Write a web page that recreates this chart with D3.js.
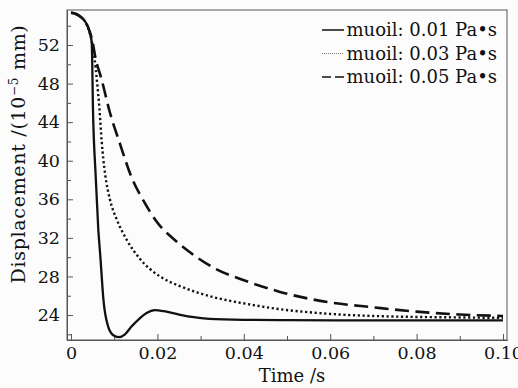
<!DOCTYPE html>
<html>
<head>
<meta charset="utf-8">
<script src="https://cdn.jsdelivr.net/npm/d3@7"></script>
<style>
  body { margin: 0; background: #fcfcfc; }
  svg { display: block; }
</style>
</head>
<body>
<div id="chart"></div>
<script>
// data
var t01 = [0, 0.001, 0.002, 0.003, 0.0038, 0.0044, 0.0048, 0.0051, 0.0057, 0.0063, 0.0068, 0.0075, 0.0086, 0.0098, 0.011, 0.0125, 0.014, 0.0158, 0.0175, 0.0194, 0.0215, 0.025, 0.028, 0.032, 0.04, 0.05, 0.07, 0.1];
var v01 = [55.35, 55.25, 55.0, 54.6, 54.0, 53.2, 52.2, 45.0, 38.5, 33.0, 30.0, 25.6, 22.8, 21.9, 21.7, 22.0, 22.8, 23.6, 24.2, 24.5, 24.4, 24.05, 23.8, 23.6, 23.5, 23.47, 23.45, 23.45];

var t03 = [0, 0.001, 0.002, 0.003, 0.004, 0.0048, 0.0054, 0.006, 0.0066, 0.0071, 0.0079, 0.009, 0.0106, 0.0129, 0.016, 0.0206, 0.0252, 0.0295, 0.033, 0.0407, 0.0484, 0.0561, 0.0623, 0.07, 0.08, 0.09, 0.1];
var v03 = [55.35, 55.25, 55.0, 54.6, 53.7, 52.4, 50.8, 48.3, 45.3, 42.0, 38.6, 36.0, 33.9, 31.8, 29.8, 28.0, 27.0, 26.3, 25.85, 25.15, 24.6, 24.25, 24.05, 23.9, 23.8, 23.75, 23.7];

var t05 = [0, 0.001, 0.002, 0.003, 0.004, 0.005, 0.0056, 0.0071, 0.009, 0.0113, 0.014, 0.0171, 0.0198, 0.0245, 0.0291, 0.033, 0.0407, 0.0484, 0.0561, 0.06, 0.07, 0.08, 0.09, 0.1];
var v05 = [55.35, 55.25, 55.0, 54.6, 53.8, 52.3, 50.8, 48.4, 45.0, 41.8, 38.3, 35.6, 33.7, 31.6, 30.0, 28.9, 27.5, 26.4, 25.6, 25.3, 24.8, 24.35, 24.05, 23.9];

var seriesNames = ["muoil: 0.01 Pa\u2022s", "muoil: 0.03 Pa\u2022s", "muoil: 0.05 Pa\u2022s"];

var xTicks = [0, 0.02, 0.04, 0.06, 0.08, 0.1];
var xTickLabels = ["0", "0.02", "0.04", "0.06", "0.08", "0.10"];
var xMinor = [0.01, 0.03, 0.05, 0.07, 0.09];
var yTicks = [24, 28, 32, 36, 40, 44, 48, 52];
var yMinor = [22, 26, 30, 34, 38, 42, 46, 50, 54];

var W = 518, H = 388;
var pLeft = 67, pRight = 507, pTop = 10, pBottom = 340;
var font = "'DejaVu Serif', serif";
var ink = "#111";

var svg = d3.select("#chart")
  .append("svg")
    .attr("width", W)
    .attr("height", H);

var x = d3.scaleLinear()
  .domain([-0.00093, 0.10093])
  .range([pLeft, pRight]);

var y = d3.scaleLinear()
  .domain([21.41, 55.63])
  .range([pBottom, pTop]);

// frame
svg.append("rect")
  .attr("x", pLeft)
  .attr("y", pTop)
  .attr("width", pRight - pLeft)
  .attr("height", pBottom - pTop)
  .attr("fill", "none")
  .attr("stroke", "#555")
  .attr("stroke-width", 1);

// x axis
svg.append("g")
  .attr("transform", "translate(0," + pBottom + ")")
  .call(d3.axisBottom(x)
    .tickValues(xTicks)
    .tickSizeInner(-6)
    .tickSizeOuter(0)
    .tickPadding(7)
    .tickFormat(function(d, i) { return xTickLabels[i]; }));

svg.append("g")
  .attr("transform", "translate(0," + pBottom + ")")
  .call(d3.axisBottom(x)
    .tickValues(xMinor)
    .tickSizeInner(-4)
    .tickSizeOuter(0)
    .tickFormat(""));

// y axis
svg.append("g")
  .attr("transform", "translate(" + pLeft + ",0)")
  .call(d3.axisLeft(y)
    .tickValues(yTicks)
    .tickSizeInner(-6)
    .tickSizeOuter(0)
    .tickPadding(7));

svg.append("g")
  .attr("transform", "translate(" + pLeft + ",0)")
  .call(d3.axisLeft(y)
    .tickValues(yMinor)
    .tickSizeInner(-4)
    .tickSizeOuter(0)
    .tickFormat(""));

svg.selectAll(".domain").attr("stroke", "#555");
svg.selectAll(".tick line").attr("stroke", "#555");
svg.selectAll(".tick text")
  .style("font-family", font)
  .style("font-size", "17.5px")
  .attr("fill", ink);

// axis titles
svg.append("text")
  .attr("x", 292)
  .attr("y", 382)
  .attr("text-anchor", "middle")
  .style("font-family", font)
  .style("font-size", "18px")
  .attr("fill", ink)
  .text("Time /s");

var ylab = svg.append("text")
  .attr("transform", "translate(25,154) rotate(-90)")
  .attr("text-anchor", "middle")
  .style("font-family", font)
  .style("font-size", "19px")
  .style("letter-spacing", "0.7px")
  .attr("fill", ink);
ylab.append("tspan").text("Displacement /(10");
ylab.append("tspan").attr("dy", -7).style("font-size", "12px").text("\u22125");
ylab.append("tspan").attr("dy", 7).text(" mm)");

// lines
svg.append("clipPath").attr("id", "clip")
  .append("rect")
    .attr("x", pLeft).attr("y", pTop)
    .attr("width", pRight - pLeft).attr("height", pBottom - pTop);

var line = d3.line()
  .x(function(d) { return x(d[0]); })
  .y(function(d) { return y(d[1]); })
  .curve(d3.curveMonotoneX);

var series = [
  {t: t01, v: v01, dash: null, w: 2.3},
  {t: t03, v: v03, dash: "2.2,2.6", w: 2.4},
  {t: t05, v: v05, dash: "14,6.5", w: 2.6}
];

series.forEach(function(s) {
  svg.append("path")
    .datum(d3.zip(s.t, s.v))
    .attr("clip-path", "url(#clip)")
    .attr("fill", "none")
    .attr("stroke", ink)
    .attr("stroke-width", s.w)
    .attr("stroke-dasharray", s.dash)
    .attr("d", line);
});

// legend
var legDash = [null, "1,1", "9,4"];
var legW = [1.5, 1, 1.5];
seriesNames.forEach(function(name, i) {
  var ly = 30 + i * 23.5;
  svg.append("line")
    .attr("x1", 322).attr("x2", 344)
    .attr("y1", ly).attr("y2", ly)
    .attr("stroke", i == 1 ? "#777" : ink)
    .attr("stroke-width", legW[i])
    .attr("stroke-dasharray", legDash[i]);
  svg.append("text")
    .attr("x", 497)
    .attr("y", ly + 6)
    .attr("text-anchor", "end")
    .style("font-family", font)
    .style("font-size", "18px")
    .attr("fill", ink)
    .text(name);
});
</script>
</body>
</html>
